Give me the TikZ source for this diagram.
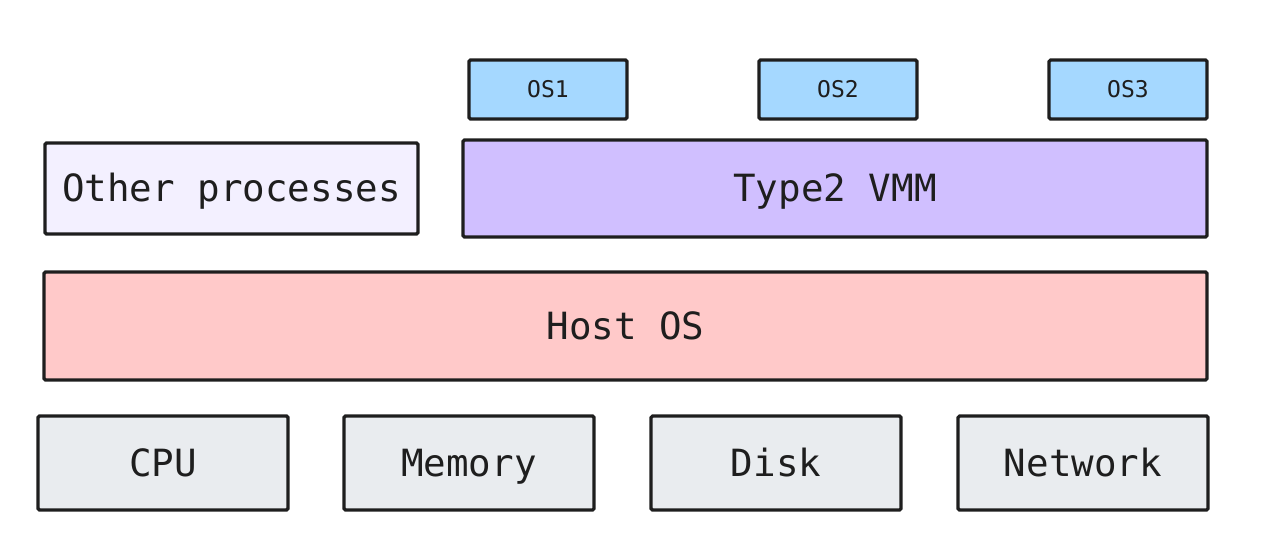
\documentclass[tikz,border=0pt]{standalone}
\usepackage{fontspec}
\setmonofont{DejaVu Sans Mono}
\definecolor{osfill}{HTML}{A5D8FF}
\definecolor{otherfill}{HTML}{F3F0FF}
\definecolor{vmmfill}{HTML}{D0BFFF}
\definecolor{hostfill}{HTML}{FFC9C9}
\definecolor{edge}{HTML}{1E1E1E}
\definecolor{hwfill}{HTML}{E9ECEF}
\tikzset{
  blk/.style={draw=edge, line width=3.2pt, rounded corners=1.5pt, text=edge, inner sep=0pt,
    text height=26pt, text depth=0pt, font=\ttfamily\fontsize{37.5}{40}\selectfont},
  small/.style={blk, text height=15pt, font=\ttfamily\fontsize{23}{26}\selectfont},
}
\begin{document}
\begin{tikzpicture}[x=1pt,y=-1pt]
\useasboundingbox (0,0) rectangle (1269,546);
% OS boxes
\node[small, fill=osfill, minimum width=158pt, minimum height=59pt] (os1) at (548,89.5) {OS1};
\node[small, fill=osfill, minimum width=158pt, minimum height=59pt] (os2) at (838,89.5) {OS2};
\node[small, fill=osfill, minimum width=158pt, minimum height=59pt] (os3) at (1128,89.5) {OS3};
% middle layer
\node[blk, fill=otherfill, minimum width=373pt, minimum height=91pt] (other) at (231.5,188.5) {Other processes};
\node[blk, fill=vmmfill, minimum width=744pt, minimum height=97pt] (vmm) at (835,188.5) {Type2 VMM};
% host
\node[blk, fill=hostfill, minimum width=1163pt, minimum height=108pt] (host) at (625.5,326) {Host OS};
% hardware
\node[blk, fill=hwfill, minimum width=250pt, minimum height=94pt] (cpu) at (163,463) {CPU};
\node[blk, fill=hwfill, minimum width=250pt, minimum height=94pt] (mem) at (469,463) {Memory};
\node[blk, fill=hwfill, minimum width=250pt, minimum height=94pt] (disk) at (776,463) {Disk};
\node[blk, fill=hwfill, minimum width=250pt, minimum height=94pt] (net) at (1083,463) {Network};
\end{tikzpicture}
\end{document}
